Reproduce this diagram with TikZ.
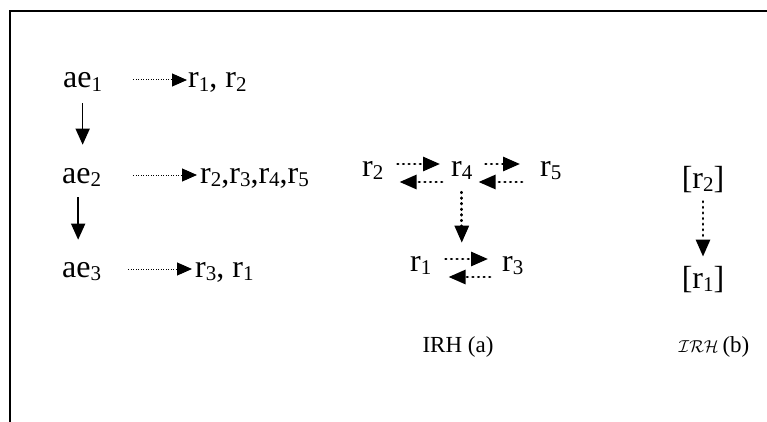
\documentclass[tikz,border=0pt]{standalone}
\usepackage{fontspec}
\setmainfont{Liberation Serif}
\usetikzlibrary{arrows.meta}
\newcommand\idx[1]{\raisebox{-3.5pt}{\fontsize{21}{21}\selectfont #1}}
\tikzset{
  txt/.style={inner sep=0pt, font=\fontsize{32}{38}\selectfont},
  capt/.style={inner sep=0pt, font=\fontsize{23}{28}\selectfont},
  solidarr/.style={line width=1.5pt, -{Triangle[length=16pt,width=14pt]}},
  thindot/.style={line width=1pt, dash pattern=on 1pt off 1.5pt, -{Triangle[length=15pt,width=13pt]}},
  bolddot/.style={line width=2.8pt, line cap=round, dash pattern=on 0.6pt off 5pt, -{Triangle[length=17pt,width=14pt]}}
}
\begin{document}
\begin{tikzpicture}[x=1pt,y=-1pt]
\useasboundingbox (0,0) rectangle (767,422);
\draw[line width=2pt] (10,422) -- (10,11) -- (767,11);% frame
% left part
\node[txt, anchor=base west] (ae1) at (63,88) {ae\idx{1}};
\node[txt, anchor=base west] (ae2) at (62,183) {ae\idx{2}};
\node[txt, anchor=base west] (ae3) at (62,277) {ae\idx{3}};
\node[txt, anchor=base west] (set1) at (188,88) {r\idx{1}, r\idx{2}};
\node[txt, anchor=base west] (set2) at (200,183) {r\idx{2},r\idx{3},r\idx{4},r\idx{5}};
\node[txt, anchor=base west] (set3) at (195,277) {r\idx{3}, r\idx{1}};
\draw[thindot, shorten <=31pt, shorten >=1pt] ([yshift=8pt]ae1.base east) -- ([yshift=8pt]set1.base west);
\draw[thindot, shorten <=32pt, shorten >=3pt] ([yshift=8pt]ae2.base east) -- ([yshift=8pt]set2.base west);
\draw[thindot, shorten <=27pt, shorten >=3pt] ([yshift=8pt]ae3.base east) -- ([yshift=8pt]set3.base west);
\draw[solidarr, shorten <=11.5pt, shorten >=23pt] (ae1.south) -- (ae1.south |- ae2.north);
\draw[solidarr, shorten <=10.5pt, shorten >=22pt] ([xshift=-3.5pt]ae2.south) -- ([xshift=-3.5pt]ae2.south |- ae3.north);
% IRH (a)
\node[txt, anchor=base west] (r2) at (362,176) {r\idx{2}};
\node[txt, anchor=base west] (r4) at (451,176) {r\idx{4}};
\node[txt, anchor=base west] (r5) at (540,176) {r\idx{5}};
\node[txt, anchor=base west] (r1) at (410,271) {r\idx{1}};
\node[txt, anchor=base west] (r3) at (502,271) {r\idx{3}};
\draw[bolddot, shorten <=14pt, shorten >=11pt] ([yshift=12pt]r2.base east) -- ([yshift=12pt]r4.base west);
\draw[bolddot, shorten <=9pt, shorten >=16pt] ([yshift=-6pt]r4.base west) -- ([yshift=-6pt]r2.base east);
\draw[bolddot, shorten <=13pt, shorten >=20pt] ([yshift=12pt]r4.base east) -- ([yshift=12pt]r5.base west);
\draw[bolddot, shorten <=18pt, shorten >=6pt] ([yshift=-6pt]r5.base west) -- ([yshift=-6pt]r4.base east);
\draw[bolddot, shorten <=12.5pt, shorten >=13pt] (r4.south) -- (r4.south |- r1.north);
\draw[bolddot, shorten <=14pt, shorten >=14pt] ([yshift=12pt]r1.base east) -- ([yshift=12pt]r3.base west);
\draw[bolddot, shorten <=12pt, shorten >=17pt] ([yshift=-6pt]r3.base west) -- ([yshift=-6pt]r1.base east);
\node[capt, anchor=base] (capa) at (458,352) {IRH (a)};
% IRH (b)
\node[txt, anchor=base] (cr2) at (703,188) {[r\idx{2}]};
\node[txt, anchor=base] (cr1) at (703,288) {[r\idx{1}]};
\draw[bolddot, shorten <=9pt, shorten >=9pt] (cr2.south) -- (cr1.north);
\node[capt, anchor=base] (capb) at (714,352) {{\fontsize{19}{20}\selectfont$\mathcal{IRH}$}\,(b)};
\end{tikzpicture}
\end{document}
